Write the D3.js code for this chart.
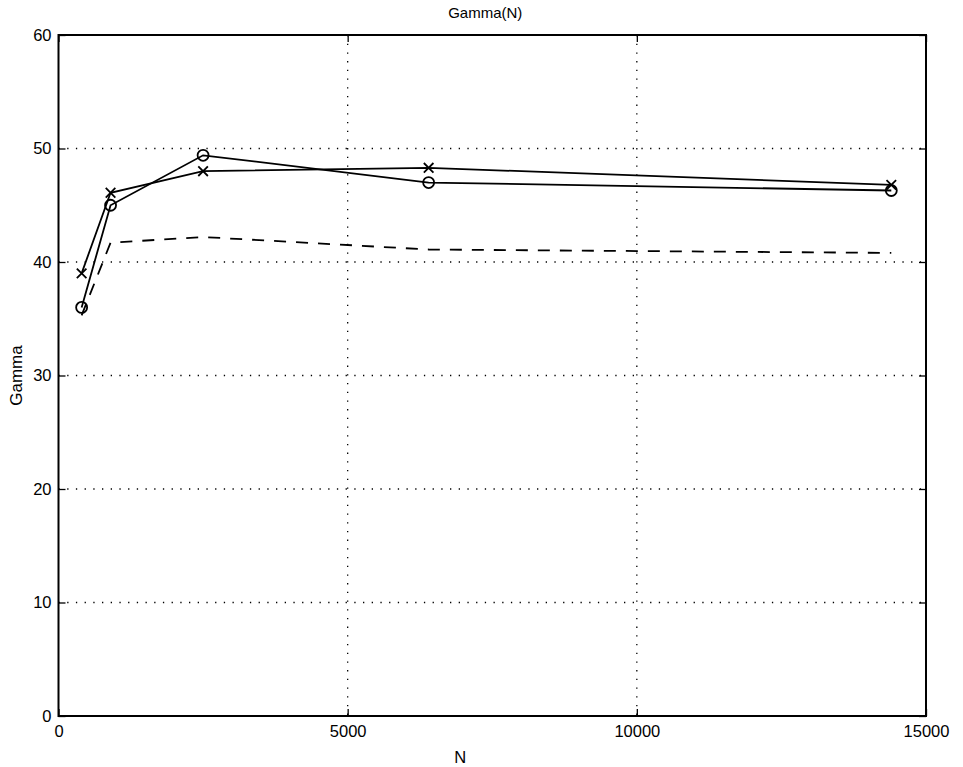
<!DOCTYPE html>
<html>
<head>
<meta charset="utf-8">
<script src="https://d3js.org/d3.v7.min.js"></script>
<style>
  body { margin: 0; background: #fff; }
  svg { display: block; font-family: "Liberation Sans", Arial, sans-serif; }
  .grid line { stroke: #000; stroke-width: 1.3; stroke-dasharray: 1.3 7.4; }
</style>
</head>
<body>
<svg id="canvas" width="963" height="767"></svg>
<script>
"use strict"

// values
const N = [400, 900, 2500, 6400, 14400]
const gammaCircle = [36.0, 45.0, 49.4, 47.0, 46.3]
const gammaCross = [39.0, 46.1, 48.0, 48.3, 46.8]
const gammaDashed = [35.3, 41.7, 42.2, 41.1, 40.8]
const xTicks = [0, 5000, 10000, 15000]
const yTicks = [0, 10, 20, 30, 40, 50, 60]

const m = { left: 58.5, right: 926, top: 35, bottom: 716 }
const svg = d3.select("#canvas")

const x = d3.scaleLinear().domain([0, 15000]).range([m.left, m.right])
const y = d3.scaleLinear().domain([0, 60]).range([m.bottom, m.top])

// dotted grid
const grid = svg.append("g").attr("class", "grid")
grid.selectAll(".gx")
  .data(xTicks.slice(1, -1))
  .enter().append("line")
    .attr("x1", d => x(d)).attr("x2", d => x(d))
    .attr("y1", m.top).attr("y2", m.bottom)
grid.selectAll(".gy")
  .data(yTicks.slice(1, -1))
  .enter().append("line")
    .attr("x1", m.left).attr("x2", m.right)
    .attr("y1", d => y(d)).attr("y2", d => y(d))

// axes with inward ticks on all four sides
const tk = 7
svg.append("g")
  .attr("transform", `translate(0,${m.bottom})`)
  .call(d3.axisBottom(x).tickValues(xTicks).tickSize(-tk).tickPadding(9).tickFormat(d3.format("d")))
svg.append("g")
  .attr("transform", `translate(0,${m.top})`)
  .call(d3.axisTop(x).tickValues(xTicks).tickSize(-tk).tickFormat(""))
svg.append("g")
  .attr("transform", `translate(${m.left},0)`)
  .call(d3.axisLeft(y).tickValues(yTicks).tickSize(-tk).tickPadding(7))
svg.append("g")
  .attr("transform", `translate(${m.right},0)`)
  .call(d3.axisRight(y).tickValues(yTicks).tickSize(-tk).tickFormat(""))

svg.selectAll(".domain").remove()
svg.selectAll(".tick line").attr("stroke", "#000").attr("stroke-width", 1.3)
svg.selectAll(".tick text").attr("fill", "#000").style("font-size", "16.5px")

svg.append("rect")
  .attr("x", m.left).attr("y", m.top)
  .attr("width", m.right - m.left).attr("height", m.bottom - m.top)
  .attr("fill", "none").attr("stroke", "#000").attr("stroke-width", 2)

const line = d3.line().x((d, i) => x(N[i])).y(d => y(d))

svg.append("path").datum(gammaDashed)
  .attr("d", line).attr("fill", "none")
  .attr("stroke", "#000").attr("stroke-width", 1.8)
  .attr("stroke-dasharray", "12 10")

svg.append("path").datum(gammaCircle)
  .attr("d", line).attr("fill", "none")
  .attr("stroke", "#000").attr("stroke-width", 1.8)

svg.append("path").datum(gammaCross)
  .attr("d", line).attr("fill", "none")
  .attr("stroke", "#000").attr("stroke-width", 1.8)

svg.append("g").selectAll("circle")
  .data(gammaCircle)
  .enter().append("circle")
    .attr("cx", (d, i) => x(N[i])).attr("cy", d => y(d))
    .attr("r", 5.5).attr("fill", "none")
    .attr("stroke", "#000").attr("stroke-width", 1.8)

const s = 4.8
svg.append("g").selectAll("path")
  .data(gammaCross)
  .enter().append("path")
    .attr("d", (d, i) => {
      const cx = x(N[i]), cy = y(d)
      return `M${cx - s},${cy - s}L${cx + s},${cy + s}M${cx - s},${cy + s}L${cx + s},${cy - s}`
    })
    .attr("stroke", "#000").attr("stroke-width", 1.8)

// titles
svg.append("text")
  .attr("x", (m.left + m.right) / 2 - 7).attr("y", 18)
  .attr("text-anchor", "middle").style("font-size", "15px")
  .text("Gamma(N)")
svg.append("text")
  .attr("x", (m.left + m.right) / 2 - 32).attr("y", 763)
  .attr("text-anchor", "middle").style("font-size", "16.5px")
  .text("N")
svg.append("text")
  .attr("transform", `translate(22,${(m.top + m.bottom) / 2}) rotate(-90)`)
  .attr("text-anchor", "middle").style("font-size", "17px")
  .text("Gamma")
</script>
</body>
</html>
